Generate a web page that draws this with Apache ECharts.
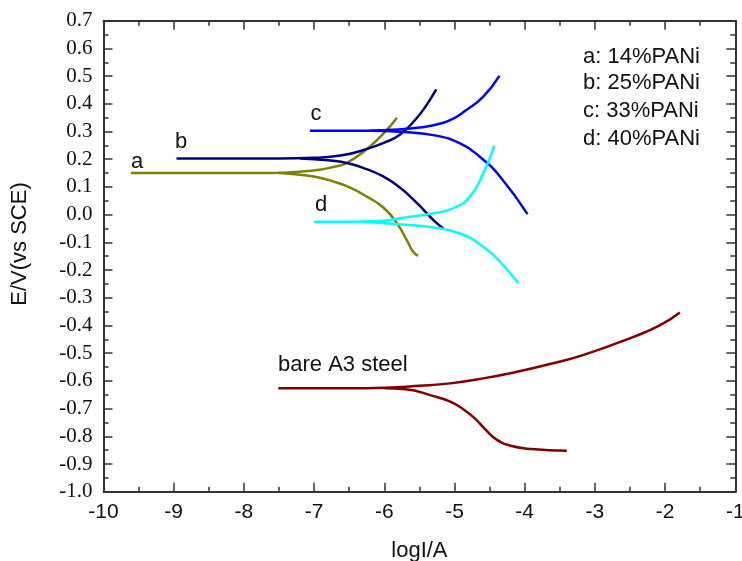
<!DOCTYPE html>
<html>
<head>
<meta charset="utf-8">
<script src="https://cdn.jsdelivr.net/npm/echarts@6/dist/echarts.min.js"></script>
<style>
  html, body { margin: 0; padding: 0; background: #fff; }
  #chart { width: 742px; height: 561px; }
</style>
</head>
<body>
<div id="chart"></div>
<script>
// Tafel polarisation curves: potential E (V vs SCE) against log current.
// Each coating has an anodic and a cathodic branch, given as [logI, E] pairs.
const xTicks = [-10, -9, -8, -7, -6, -5, -4, -3, -2, -1];
const yTicks = [-1.0, -0.9, -0.8, -0.7, -0.6, -0.5, -0.4, -0.3, -0.2, -0.1, 0.0, 0.1, 0.2, 0.3, 0.4, 0.5, 0.6, 0.7];

const aAnodic = [[-9.61,0.15],[-8.5,0.15],[-7.6,0.15],[-7.2,0.155],[-6.9,0.163],[-6.73,0.172],[-6.54,0.186],[-6.25,0.236],[-6.01,0.293],[-5.82,0.35]];
const aCathodic = [[-7.5,0.15],[-7.2,0.144],[-6.95,0.135],[-6.73,0.12],[-6.5,0.099],[-6.25,0.065],[-6.01,0.025],[-5.82,-0.031],[-5.68,-0.092],[-5.59,-0.134],[-5.52,-0.149]];

const bAnodic = [[-8.96,0.203],[-7.5,0.203],[-7.0,0.205],[-6.6,0.214],[-6.25,0.237],[-6.0,0.26],[-5.78,0.288],[-5.54,0.348],[-5.4,0.395],[-5.26,0.452]];
const bCathodic = [[-7.2,0.203],[-6.8,0.196],[-6.49,0.184],[-6.25,0.164],[-6.01,0.137],[-5.78,0.098],[-5.63,0.065],[-5.45,0.02],[-5.3,-0.02],[-5.16,-0.05]];

const cAnodic = [[-7.06,0.303],[-6.5,0.303],[-6.0,0.305],[-5.63,0.311],[-5.3,0.323],[-5.06,0.341],[-4.83,0.378],[-4.59,0.426],[-4.36,0.501]];
const cCathodic = [[-6.2,0.303],[-5.78,0.299],[-5.3,0.287],[-4.92,0.257],[-4.64,0.209],[-4.35,0.137],[-3.96,0.002]];

const dAnodic = [[-7.0,-0.026],[-6.5,-0.026],[-6.0,-0.022],[-5.78,-0.013],[-5.3,0.005],[-5.02,0.023],[-4.78,0.065],[-4.59,0.149],[-4.43,0.249]];
const dCathodic = [[-6.3,-0.026],[-5.78,-0.035],[-5.3,-0.046],[-4.92,-0.068],[-4.59,-0.116],[-4.35,-0.17],[-4.09,-0.248]];

const steelAnodic = [[-7.51,-0.627],[-6.5,-0.627],[-6.0,-0.625],[-5.5,-0.618],[-5.06,-0.609],[-4.59,-0.591],[-4.11,-0.567],[-3.64,-0.539],[-3.17,-0.507],[-2.45,-0.441],[-2.07,-0.399],[-1.79,-0.353]];
const steelCathodic = [[-6.0,-0.627],[-5.7,-0.63],[-5.3,-0.655],[-5.06,-0.675],[-4.87,-0.703],[-4.7,-0.738],[-4.55,-0.778],[-4.4,-0.812],[-4.2,-0.834],[-3.9,-0.846],[-3.4,-0.852]];

const legendLines = ['a: 14%PANi', 'b: 25%PANi', 'c: 33%PANi', 'd: 40%PANi'];

const colors = { a: '#808000', b: '#000080', c: '#0000ff', d: '#00ffff', steel: '#800000' };

const SANS = 'Liberation Sans';
const SERIF = 'Liberation Serif';
const AXIS_COLOR = '#333';

function branch(name, data, color) {
  return {
    name: name,
    type: 'line',
    data: data,
    showSymbol: false,
    smooth: 0.5,
    lineStyle: { color: color, width: 2.5 },
    itemStyle: { color: color },
    z: 3
  };
}

// Boxed frame: every side carries inward major and minor ticks.
function frameAxis(extra) {
  return Object.assign({
    type: 'value',
    scale: false,
    axisLine: { show: true, onZero: false, lineStyle: { color: AXIS_COLOR, width: 2 } },
    axisTick: { show: true, inside: true, length: 9, interval: 0, lineStyle: { color: AXIS_COLOR, width: 1.5 } },
    minorTick: { show: true, splitNumber: 2, length: 5, lineStyle: { color: AXIS_COLOR, width: 1.5 } },
    splitLine: { show: false },
    minorSplitLine: { show: false }
  }, extra);
}

const chart = echarts.init(document.getElementById('chart'), null, { renderer: 'canvas' });

const legendGraphics = legendLines.map((t, i) => ({
  type: 'text',
  x: 583,
  y: [57.3, 83.3, 111, 139.3][i],
  style: { text: t, font: '22px ' + SANS, fill: '#111', textAlign: 'left', textVerticalAlign: 'middle' }
}));

function note(text, x, y, align) {
  return {
    type: 'text', x: x, y: y,
    style: { text: text, font: '22px ' + SANS, fill: '#111', textAlign: align || 'center', textVerticalAlign: 'middle' }
  };
}

chart.setOption({
  animation: false,
  backgroundColor: '#fff',
  grid: { left: 103.5, right: 6.7, top: 20.7, bottom: 69.3, containLabel: false, outerBoundsMode: 'none' },
  xAxis: [
    frameAxis({
      position: 'bottom', min: xTicks[0], max: xTicks[xTicks.length - 1], interval: 1,
      axisLabel: { show: true, margin: 10, color: '#111', fontSize: 21, fontFamily: SANS,
        formatter: v => String(Math.round(v)) },
      name: 'logI/A', nameLocation: 'middle', nameGap: 48,
      nameTextStyle: { color: '#111', fontSize: 22, fontFamily: SANS }
    }),
    frameAxis({
      position: 'top', min: xTicks[0], max: xTicks[xTicks.length - 1], interval: 1,
      axisLabel: { show: false }
    })
  ],
  yAxis: [
    frameAxis({
      position: 'left', min: yTicks[0], max: yTicks[yTicks.length - 1], interval: 0.1,
      axisLabel: { show: true, margin: 11, color: '#111', fontSize: 21, fontFamily: SERIF,
        formatter: v => (Math.abs(v) < 1e-9 ? 0 : v).toFixed(1) }
    }),
    frameAxis({
      position: 'right', min: yTicks[0], max: yTicks[yTicks.length - 1], interval: 0.1,
      axisLabel: { show: false }
    })
  ],
  graphic: [
    {
      type: 'text', x: 20, y: 244, rotation: Math.PI / 2,
      style: { text: 'E/V(vs SCE)', font: '22px ' + SANS, fill: '#111', textAlign: 'center', textVerticalAlign: 'middle' }
    },
    note('a', 137, 162),
    note('b', 181, 142),
    note('c', 316, 114),
    note('d', 321, 205),
    note('bare A3 steel', 278, 365, 'left')
  ].concat(legendGraphics),
  series: [
    branch('a anodic', aAnodic, colors.a),
    branch('a cathodic', aCathodic, colors.a),
    branch('b anodic', bAnodic, colors.b),
    branch('b cathodic', bCathodic, colors.b),
    branch('c anodic', cAnodic, colors.c),
    branch('c cathodic', cCathodic, colors.c),
    branch('d anodic', dAnodic, colors.d),
    branch('d cathodic', dCathodic, colors.d),
    branch('steel anodic', steelAnodic, colors.steel),
    branch('steel cathodic', steelCathodic, colors.steel)
  ]
});
</script>
</body>
</html>
